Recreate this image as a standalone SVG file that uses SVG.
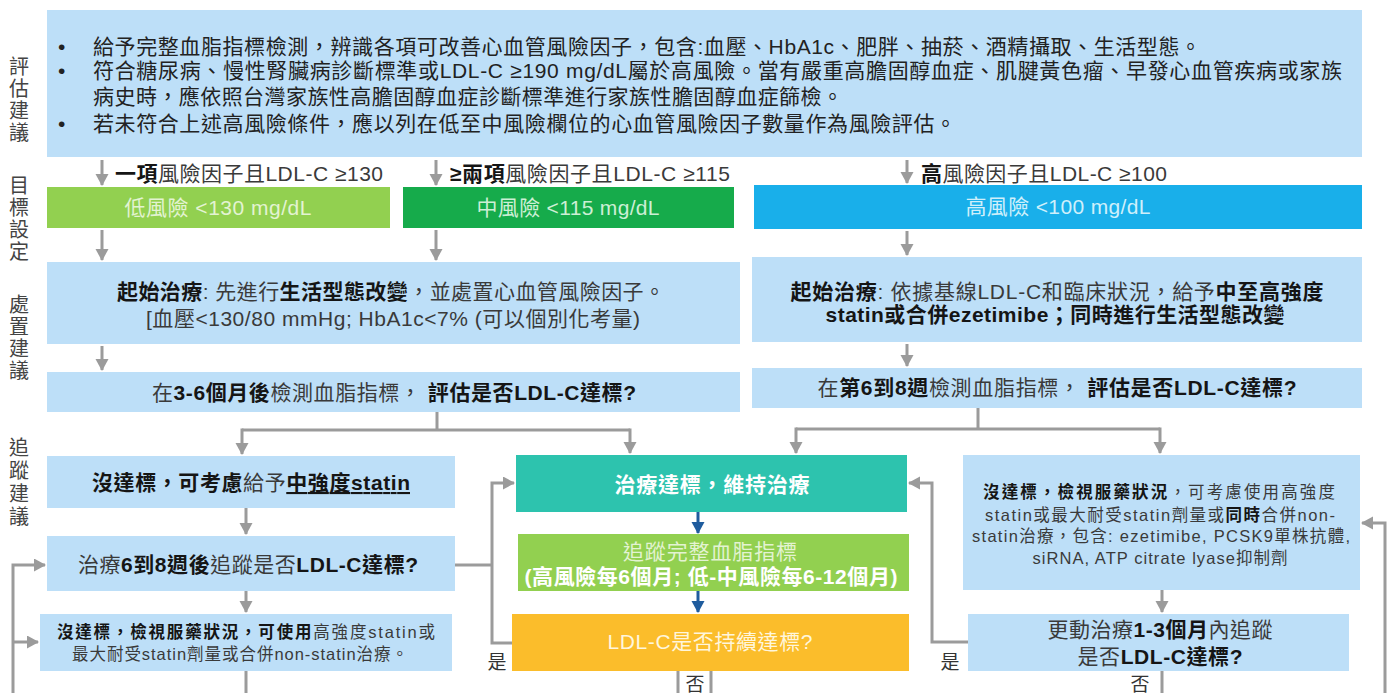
<svg xmlns="http://www.w3.org/2000/svg" width="1394" height="693" viewBox="0 0 1394 693" lang="zh-TW" xml:lang="zh-TW">
<style>
text{font-family:"Liberation Sans","Noto Sans CJK TC",sans-serif;fill:#3a3a3a}
.f20{font-size:21px}
.f17{font-size:16.5px}
.b{font-weight:bold;fill:#151515}
.lbl{font-size:20px;fill:#444;text-anchor:middle}
.c{text-anchor:middle}
.lb{fill:#BDDFF8}
.ln{stroke:#9B9B9B;stroke-width:3;fill:none}
.bl{stroke:#1F5C9E;stroke-width:3;fill:none}
.w{fill:#ffffff}
.pale{fill:#E3F3D2}
</style>
<defs>
<marker id="ag" markerUnits="userSpaceOnUse" markerWidth="14" markerHeight="14" refX="11" refY="6.5" orient="auto"><path d="M0,0 L12,6.5 L0,13 Z" fill="#9B9B9B"/></marker>
<marker id="ab" markerUnits="userSpaceOnUse" markerWidth="14" markerHeight="14" refX="11" refY="6.5" orient="auto"><path d="M0,0 L12,6.5 L0,13 Z" fill="#1F5C9E"/></marker>
</defs>
<rect width="1394" height="693" fill="#ffffff"/>

<g id="side-labels">
<text class="lbl" x="19" y="74">評</text><text class="lbl" x="19" y="96">估</text><text class="lbl" x="19" y="118">建</text><text class="lbl" x="19" y="140">議</text>
<text class="lbl" x="19" y="193">目</text><text class="lbl" x="19" y="215">標</text><text class="lbl" x="19" y="237">設</text><text class="lbl" x="19" y="259">定</text>
<text class="lbl" x="19" y="312">處</text><text class="lbl" x="19" y="334">置</text><text class="lbl" x="19" y="356">建</text><text class="lbl" x="19" y="378">議</text>
<text class="lbl" x="19" y="455">追</text><text class="lbl" x="19" y="478">蹤</text><text class="lbl" x="19" y="501">建</text><text class="lbl" x="19" y="524">議</text>
</g>

<g id="assessment">
<rect class="lb" x="47" y="10" width="1315" height="147"/>
<text class="f20" x="58" y="54" style="fill:#222">•</text>
<text class="f20" x="58" y="78" style="fill:#222">•</text>
<text class="f20" x="58" y="131" style="fill:#222">•</text>
<text class="f20" x="93" y="54" textLength="1108" lengthAdjust="spacing" style="fill:#222">給予完整血脂指標檢測，辨識各項可改善心血管風險因子，包含:血壓、HbA1c、肥胖、抽菸、酒精攝取、生活型態。</text>
<text class="f20" x="93" y="78" textLength="1249" lengthAdjust="spacing" style="fill:#222">符合糖尿病、慢性腎臟病診斷標準或LDL-C ≥190 mg/dL屬於高風險。當有嚴重高膽固醇血症、肌腱黃色瘤、早發心血管疾病或家族</text>
<text class="f20" x="93" y="104" textLength="750" lengthAdjust="spacing" style="fill:#222">病史時，應依照台灣家族性高膽固醇血症診斷標準進行家族性膽固醇血症篩檢。</text>
<text class="f20" x="93" y="131" textLength="863" lengthAdjust="spacing" style="fill:#222">若未符合上述高風險條件，應以列在低至中風險欄位的心血管風險因子數量作為風險評估。</text>
</g>

<g id="criteria-labels">
<text class="f20" x="115" y="181" textLength="268" lengthAdjust="spacing"><tspan class="b">一項</tspan>風險因子且LDL-C ≥130</text>
<text class="f20" x="450" y="181" textLength="280" lengthAdjust="spacing"><tspan class="b">≥兩項</tspan>風險因子且LDL-C ≥115</text>
<text class="f20" x="921" y="181" textLength="246" lengthAdjust="spacing"><tspan class="b">高</tspan>風險因子且LDL-C ≥100</text>
</g>

<g id="low-risk">
<rect x="47" y="187" width="343" height="41" fill="#92D050"/>
<text class="f20 c pale" x="218" y="215" textLength="187" lengthAdjust="spacing">低風險 &lt;130 mg/dL</text>
</g>
<g id="mid-risk">
<rect x="403" y="187" width="331" height="41" fill="#16AB4B"/>
<text class="f20 c" x="568" y="215" textLength="183" lengthAdjust="spacing" style="fill:#CDEFD5">中風險 &lt;115 mg/dL</text>
</g>
<g id="high-risk">
<rect x="754" y="185" width="608" height="44" fill="#19AFEA"/>
<text class="f20 c" x="1058" y="214" textLength="185" lengthAdjust="spacing" style="fill:#CFEFFB">高風險 &lt;100 mg/dL</text>
</g>

<g id="start-low-mid">
<rect class="lb" x="47" y="262" width="693" height="82"/>
<text class="f20 c" x="391" y="299" textLength="548" lengthAdjust="spacing"><tspan class="b">起始治療</tspan>: 先進行<tspan class="b">生活型態改變</tspan>，並處置心血管風險因子。</text>
<text class="f20 c" x="393" y="326" textLength="494" lengthAdjust="spacing">[血壓&lt;130/80 mmHg; HbA1c&lt;7% (可以個別化考量)</text>
</g>
<g id="start-high">
<rect class="lb" x="752" y="257" width="610" height="85"/>
<text class="f20 c" x="1057" y="299" textLength="533" lengthAdjust="spacing"><tspan class="b">起始治療</tspan>: 依據基線LDL-C和臨床狀況，給予<tspan class="b">中至高強度</tspan></text>
<text class="f20 c b" x="1055" y="322" textLength="459" lengthAdjust="spacing">statin或合併ezetimibe；同時進行生活型態改變</text>
</g>

<g id="eval-low-mid">
<rect class="lb" x="47" y="372" width="693" height="40"/>
<text class="f20 c" x="394" y="400" textLength="484" lengthAdjust="spacing">在<tspan class="b">3-6個月後</tspan>檢測血脂指標， <tspan class="b">評估是否LDL-C達標?</tspan></text>
</g>
<g id="eval-high">
<rect class="lb" x="752" y="368" width="610" height="40"/>
<text class="f20 c" x="1057" y="395" textLength="479" lengthAdjust="spacing">在<tspan class="b">第6到8週</tspan>檢測血脂指標， <tspan class="b">評估是否LDL-C達標?</tspan></text>
</g>

<g id="not-met-moderate">
<rect class="lb" x="47" y="456" width="408" height="52"/>
<text class="f20 c" x="251" y="490" textLength="318" lengthAdjust="spacing"><tspan class="b">沒達標，可考慮</tspan>給予<tspan class="b" text-decoration="underline">中強度statin</tspan></text>
</g>
<g id="followup-6-8w">
<rect class="lb" x="47" y="536" width="408" height="55"/>
<text class="f20 c" x="248" y="572" textLength="340" lengthAdjust="spacing">治療<tspan class="b">6到8週後</tspan>追蹤是否<tspan class="b">LDL-C達標?</tspan></text>
</g>
<g id="not-met-high-intensity">
<rect class="lb" x="40" y="614" width="412" height="57"/>
<text class="f17 c" x="246" y="638" textLength="378" lengthAdjust="spacing"><tspan class="b">沒達標，檢視服藥狀況，可使用</tspan>高強度statin或</text>
<text class="f17 c" x="240" y="660" textLength="336" lengthAdjust="spacing">最大耐受statin劑量或合併non-statin治療。</text>
</g>

<g id="target-met">
<rect x="516" y="455" width="391" height="57" fill="#2DC3AE"/>
<text class="f20 c b w" x="712" y="492" textLength="195" lengthAdjust="spacing">治療達標，維持治療</text>
</g>
<g id="monitor">
<rect x="518" y="534" width="391" height="57" fill="#92D050"/>
<text class="f20 c pale" x="710" y="559" textLength="174" lengthAdjust="spacing">追蹤完整血脂指標</text>
<text class="f20 c b w" x="711" y="584" textLength="373" lengthAdjust="spacing">(高風險每6個月; 低-中風險每6-12個月)</text>
</g>
<g id="sustained">
<rect x="512" y="614" width="397" height="57" fill="#FBBD2B"/>
<text class="f20 c" x="710" y="649" textLength="205" lengthAdjust="spacing" style="fill:#FFF6DC">LDL-C是否持續達標?</text>
</g>

<g id="not-met-high-risk">
<rect class="lb" x="963" y="455" width="397" height="135"/>
<text class="f17 c" x="1159" y="498" textLength="352" lengthAdjust="spacing"><tspan class="b">沒達標，檢視服藥狀況</tspan>，可考慮使用高強度</text>
<text class="f17 c" x="1160" y="521" textLength="350" lengthAdjust="spacing">statin或最大耐受statin劑量或<tspan class="b">同時</tspan>合併non-</text>
<text class="f17 c" x="1161" y="542" textLength="378" lengthAdjust="spacing">statin治療，包含: ezetimibe, PCSK9單株抗體,</text>
<text class="f17 c" x="1160" y="564" textLength="255" lengthAdjust="spacing">siRNA, ATP citrate lyase抑制劑</text>
</g>
<g id="change-followup">
<rect class="lb" x="968" y="614" width="381" height="57"/>
<text class="f20 c" x="1160" y="637" textLength="225" lengthAdjust="spacing">更動治療<tspan class="b">1-3個月</tspan>內追蹤</text>
<text class="f20 c" x="1160" y="664" textLength="165" lengthAdjust="spacing">是否<tspan class="b">LDL-C達標?</tspan></text>
</g>

<g id="connectors">
<path class="ln" d="M102 160 V185" marker-end="url(#ag)"/>
<path class="ln" d="M436 160 V185" marker-end="url(#ag)"/>
<path class="ln" d="M907 160 V183" marker-end="url(#ag)"/>
<path class="ln" d="M102 230 V260" marker-end="url(#ag)"/>
<path class="ln" d="M436 230 V260" marker-end="url(#ag)"/>
<path class="ln" d="M907 231 V255" marker-end="url(#ag)"/>
<path class="ln" d="M102 346 V370" marker-end="url(#ag)"/>
<path class="ln" d="M907 344 V366" marker-end="url(#ag)"/>
<path class="ln" d="M437 412 V430 M242 430 H630"/>
<path class="ln" d="M242 428.5 V454" marker-end="url(#ag)"/>
<path class="ln" d="M630 428.5 V453" marker-end="url(#ag)"/>
<path class="ln" d="M978 408 V429 M796 429 H1160"/>
<path class="ln" d="M796 427.5 V453" marker-end="url(#ag)"/>
<path class="ln" d="M1160 427.5 V453" marker-end="url(#ag)"/>
<path class="ln" d="M246 508 V534" marker-end="url(#ag)"/>
<path class="ln" d="M246 591 V612" marker-end="url(#ag)"/>
<path class="ln" d="M246 671 V693"/>
<path class="ln" d="M13 693 V565 H45" marker-end="url(#ag)"/>
<path class="ln" d="M13 642 H38" marker-end="url(#ag)"/>
<path class="ln" d="M455 565 H492"/>
<path class="ln" d="M512 643 H492 V483 H514" marker-end="url(#ag)"/>
<path class="bl" d="M698 512 V533" marker-end="url(#ab)"/>
<path class="bl" d="M698 591 V612" marker-end="url(#ab)"/>
<path class="ln" d="M678 671 V693 M711 671 V693"/>
<path class="ln" d="M1162 590 V612" marker-end="url(#ag)"/>
<path class="ln" d="M1162 671 V693"/>
<path class="ln" d="M968 642 H932 V483 H909" marker-end="url(#ag)"/>
<path class="ln" d="M1385 693 V523 H1362" marker-end="url(#ag)"/>
<text x="497" y="669" class="c" style="font-size:19px;fill:#333">是</text>
<text x="950" y="669" class="c" style="font-size:19px;fill:#333">是</text>
<text x="695" y="691" class="c" style="font-size:19px;fill:#333">否</text>
<text x="1140" y="691" class="c" style="font-size:19px;fill:#333">否</text>
</g>
</svg>
